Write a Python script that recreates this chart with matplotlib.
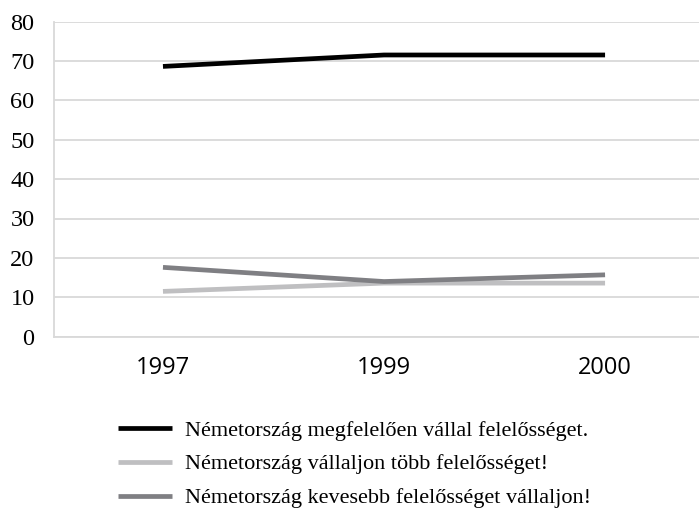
import numpy as np
import matplotlib.pyplot as plt

years = ['1997', '1999', '2000']
megfeleloen = [68.6, 71.5, 71.5]
tobb = [11.5, 13.6, 13.6]
kevesebb = [17.6, 14.0, 15.7]
labels = ['Németország megfelelően vállal felelősséget.',
          'Németország vállaljon több felelősséget!',
          'Németország kevesebb felelősséget vállaljon!']
colors = ['#000000', '#bfbfc1', '#7f7f83']

fig = plt.figure(figsize=(6.99, 5.08), dpi=100)
ax = fig.add_axes([54 / 699, 171.3 / 508, 645 / 699, 315.2 / 508])

x = np.arange(len(years))
for vals, lab, col in zip([megfeleloen, tobb, kevesebb], labels, colors):
    ax.plot(x, vals, color=col, linewidth=3.4, label=lab,
            solid_capstyle='butt', solid_joinstyle='round')

ax.set_ylim(0, 80)
ax.set_yticks(range(0, 81, 10))
ax.set_xlim(-0.493, 2.425)
ax.set_xticks(x)
ax.set_xticklabels(years, fontfamily='Open Sans', fontsize=17)
for t in ax.get_yticklabels():
    t.set_fontfamily('Liberation Serif')
    t.set_fontsize(17.5)

ax.tick_params(axis='both', length=0, colors='black')
ax.tick_params(axis='y', pad=14)
ax.tick_params(axis='x', pad=14)
ax.grid(axis='y', color='#d9d9d9', linewidth=1.3)
ax.set_axisbelow(True)
for s in ['top', 'right']:
    ax.spines[s].set_visible(False)
ax.spines['left'].set_color('#d9d9d9')
ax.spines['bottom'].set_color('#d9d9d9')
ax.spines['left'].set_linewidth(1.3)
ax.spines['bottom'].set_linewidth(1.3)

fig.legend(loc='upper left', bbox_to_anchor=(118 / 699, 88 / 508),
           frameon=False, borderpad=0, borderaxespad=0,
           handlelength=2.45, handletextpad=0.55, labelspacing=0.6,
           prop={'family': 'Liberation Serif', 'size': 16})

fig.savefig('out.png', dpi=100)
